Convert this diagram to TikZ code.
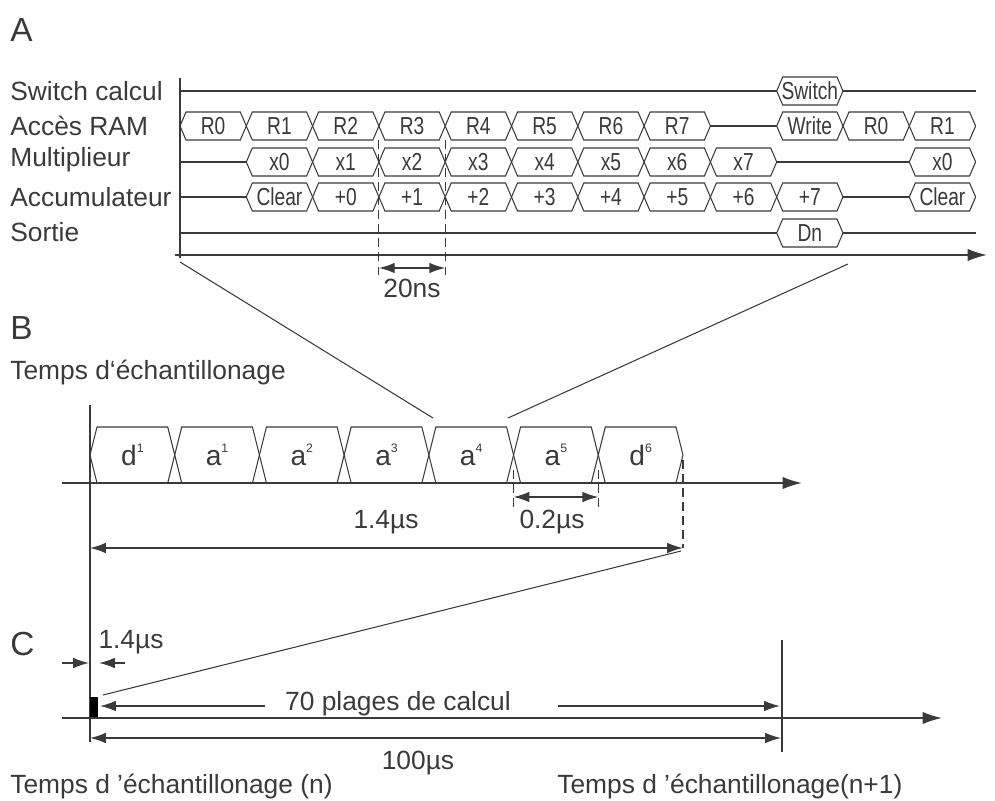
\documentclass[tikz,border=0pt]{standalone}
\usepackage{fontspec}
\setmainfont{Liberation Sans}
\usepackage{graphicx}
\usetikzlibrary{arrows.meta}
\definecolor{Ink}{HTML}{3A3A3A}

% one bus state: name, left x, right x, y, half height, text
\newcommand{\busbox}[6]{%
  \draw[sig] (#2,#4) -- ({#2+\slant},{#4-#5}) -- ({#3-\slant},{#4-#5}) -- (#3,#4)
    -- ({#3-\slant},{#4+#5}) -- ({#2+\slant},{#4+#5}) -- cycle;
  \node[bustxt] (#1) at ({(#2+#3)/2},#4) {#6};}
\newcommand{\cond}[1]{\scalebox{0.78}[1]{#1}}
\newcommand{\expo}[1]{\raisebox{0.85ex}{\fontsize{7}{8}\selectfont #1}}

\tikzset{
  sig/.style={draw=Ink, line width=0.6pt},
  axis/.style={draw=Ink, line width=0.9pt, -{Latex[length=11pt,width=7pt]}},
  dim/.style={draw=Ink, line width=0.8pt, {Latex[length=9pt,width=6pt]}-{Latex[length=9pt,width=6pt]}},
  tip/.style={draw=Ink, line width=0.8pt, -{Latex[length=9pt,width=6pt]}},
  guide/.style={draw=Ink, line width=0.6pt, dash pattern=on 5pt off 3pt},
  rowlbl/.style={anchor=west, inner sep=0pt, font=\fontsize{15}{18}\selectfont, text=Ink},
  bustxt/.style={inner sep=0pt, font=\fontsize{14}{16}\selectfont, text=Ink},
  part/.style={anchor=west, inner sep=0pt, font=\fontsize{19}{22}\selectfont, text=Ink}
}

\begin{document}
\begin{tikzpicture}[x=0.02cm, y=-0.02cm]
\useasboundingbox (0,0) rectangle (995,801);

% ---------- A ----------
\node[part] (labA) at (10,30) {A};
\node[rowlbl] (lsw) at (10,91) {Switch calcul};
\node[rowlbl] (lram) at (10,126) {Accès RAM};
\node[rowlbl] (lmul) at (10,160) {Multiplieur};
\node[rowlbl] (lacc) at (10,197) {Accumulateur};
\node[rowlbl] (lout) at (10,232) {Sortie};

\draw[sig, line width=0.9pt] (180,78) -- (180,258);
\draw[axis] (175,255) -- (987,255);

\def\slant{6}
% switch
\draw[sig] (180,91) -- (776.7,91);
\busbox{sw}{776.7}{843}{91}{14}{\cond{Switch}}
\draw[sig] (843,91) -- (975.6,91);
% RAM
\foreach \lbl [count=\k from 0] in {R0,R1,R2,R3,R4,R5,R6,R7}{
  \pgfmathsetmacro\xl{180+66.3*\k}\pgfmathsetmacro\xr{\xl+66.3}
  \busbox{ram\k}{\xl}{\xr}{126}{14}{\cond{\lbl}}}
\draw[sig] (710.4,126) -- (776.7,126);
\busbox{wr}{776.7}{843}{126}{14}{\cond{Write}}
\busbox{ramb0}{843}{909.3}{126}{14}{\cond{R0}}
\busbox{ramb1}{909.3}{975.6}{126}{14}{\cond{R1}}
% multiplier
\draw[sig] (180,162) -- (246.3,162);
\foreach \n [count=\k from 1] in {0,...,7}{
  \pgfmathsetmacro\xl{180+66.3*\k}\pgfmathsetmacro\xr{\xl+66.3}
  \busbox{mul\n}{\xl}{\xr}{162}{14}{\cond{x\n}}}
\draw[sig] (776.7,162) -- (909.3,162);
\busbox{mulb0}{909.3}{975.6}{162}{14}{\cond{x0}}
% accumulator
\draw[sig] (180,197) -- (246.3,197);
\busbox{clr}{246.3}{312.6}{197}{14}{\cond{Clear}}
\foreach \n [count=\k from 2] in {0,...,7}{
  \pgfmathsetmacro\xl{180+66.3*\k}\pgfmathsetmacro\xr{\xl+66.3}
  \busbox{acc\n}{\xl}{\xr}{197}{14}{\cond{+\n}}}
\draw[sig] (843,197) -- (909.3,197);
\busbox{clrb}{909.3}{975.6}{197}{14}{\cond{Clear}}
% output
\draw[sig] (180,233) -- (776.7,233);
\busbox{dn}{776.7}{843}{233}{14}{\cond{Dn}}
\draw[sig] (843,233) -- (975.6,233);

% 20ns
\coordinate (ca) at (378.9,268);
\coordinate (cb) at (445.2,268);
\draw[guide] (378.9,140) -- (378.9,278);
\draw[guide] (445.2,140) -- (445.2,278);
\draw[dim] (ca) -- (cb);
\node[rowlbl, anchor=center] (t20) at (412,288) {20ns};

% zoom A -> B
\coordinate (zA1) at (180,262);
\coordinate (zA2) at (848,264);
\coordinate (zB1) at (433,418);
\coordinate (zB2) at (508,418);
\draw[sig] (zA1) -- (zB1);
\draw[sig] (zA2) -- (zB2);

% ---------- B ----------
\node[part] (labB) at (10,328) {B};
\node[rowlbl] (lech) at (10,373) {Temps d‘échantillonage};
\draw[sig, line width=0.8pt] (90,405) -- (90,742);
\draw[axis] (62,483) -- (802,483);

\def\slant{7}
\foreach \ch/\ix [count=\k from 0] in {d/1,a/1,a/2,a/3,a/4,a/5,d/6}{
  \pgfmathsetmacro\xl{90+84.714*\k}\pgfmathsetmacro\xr{\xl+84.714}
  \busbox{smp\k}{\xl}{\xr}{455}{28}{\fontsize{16}{18}\selectfont\ch\expo{\ix}}}

% 0.2us and 1.4us
\coordinate (cc) at (513.6,497);
\coordinate (cd) at (598.3,497);
\draw[guide] (513.6,470) -- (513.6,511);
\draw[guide] (598.3,470) -- (598.3,511);
\draw[dim] (cc) -- (cd);
\node[rowlbl, anchor=center] (t02) at (552,522) {0.2µs};
\coordinate (ce) at (90,548);
\coordinate (cf) at (683,548);
\draw[guide] (683,460) -- (cf);
\draw[dim] (ce) -- (cf);
\node[rowlbl, anchor=center] (t14) at (386,522) {1.4µs};

% zoom B -> C
\coordinate (zC) at (103,695);
\draw[sig] (681,551) -- (zC);

% ---------- C ----------
\node[part] (labC) at (10,644) {C};
\node[rowlbl, anchor=center] (t14c) at (131,642) {1.4µs};
\draw[tip] (62,663) -- (89,663);
\draw[tip] (125,663) -- (99,663);
\fill[black] (90,697) rectangle (98,717);
\draw[axis] (62,718) -- (942,718);

\node[rowlbl, anchor=center] (t70) at (398,704) {70 plages de calcul};
\draw[tip] (265,706) -- (100,706);
\draw[tip] (558,706) -- (780,706);
\draw[sig, line width=0.8pt] (782,640) -- (782,752);

\coordinate (cg) at (90,738);
\coordinate (ch) at (781,738);
\draw[dim] (cg) -- (ch);
\node[rowlbl, anchor=center] (t100) at (418,763) {100µs};

\node[rowlbl] (ln) at (10,787) {Temps d ’échantillonage (n)};
\node[rowlbl] (ln1) at (557,787) {Temps d ’échantillonage(n+1)};
\end{tikzpicture}
\end{document}
